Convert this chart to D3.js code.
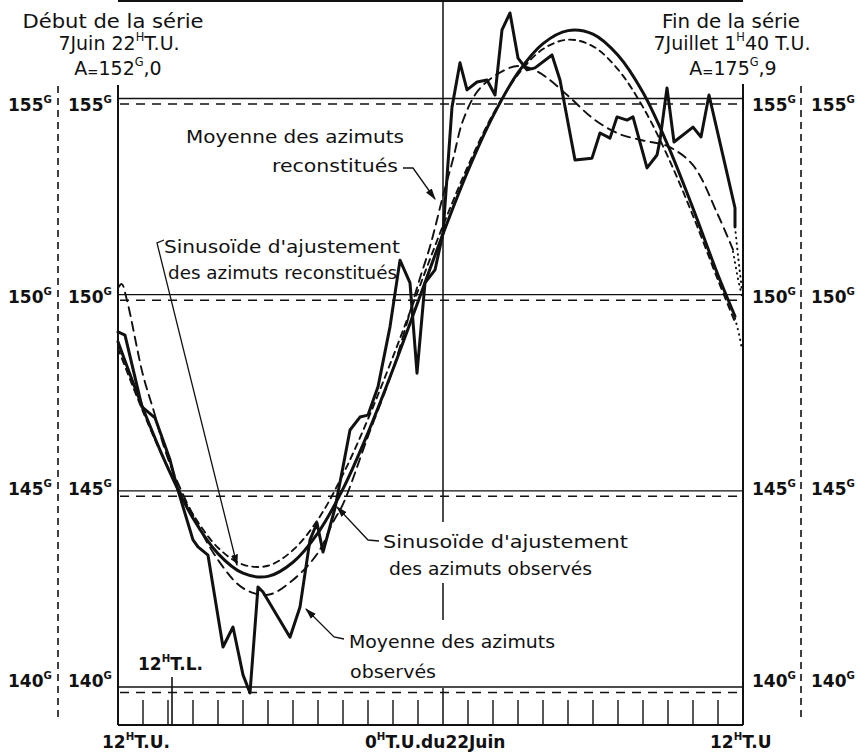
<!DOCTYPE html>
<html><head><meta charset="utf-8">
<script src="https://cdn.jsdelivr.net/npm/d3@7"></script>
<style>html,body{margin:0;padding:0;background:#fff;} svg{display:block;}</style>
</head><body>
<svg id="c" width="860" height="755"></svg>
<script>
// ---- data (t in hour-tick units from 12h T.U., value in grades) ----
const hourTicks = [0,1,2,3,4,5,6,7,8,9,10,11,12,13,14,15,16,17,18,19,20,21,22,23,24,25];
const gridValues = [155,150,145,140];
const gridLabels = ["155","150","145","140"];
const xLabels = [
  {t:0, parts:["12",{sup:"H"},"T.U."]},
  {t:13, parts:["0",{sup:"H"},"T.U.du22Juin"]},
  {t:25, parts:["12",{sup:"H"},"T.U"]}
];
const localNoonT = 2.16;

// Moyenne des azimuts observés
const meanObserved = [
 [0.00,149.05],[0.28,148.97],[0.96,147.14],[1.48,146.86],[2.08,145.79],[2.36,145.10],
 [3.00,143.75],[3.20,143.57],[3.60,143.36],[4.20,141.02],[4.60,141.53],[5.00,140.31],
 [5.28,139.85],[5.60,142.55],[5.80,142.42],[6.88,141.27],[7.28,142.04],[7.68,143.75],
 [7.96,144.18],[8.20,143.44],[8.68,144.56],[8.80,144.95],[9.00,145.61],[9.28,146.55],
 [9.68,146.88],[10.00,146.93],[10.40,147.65],[10.88,149.18],[11.28,150.88],[11.68,150.30],
 [11.96,148.00],[12.28,150.30],[12.68,150.63],[13.00,151.57],[13.36,154.78],[13.68,155.91],
 [13.96,155.22],[14.36,155.42],[14.76,155.47],[15.08,155.09],[15.36,156.75],[15.68,157.18],
 [16.00,156.03],[16.36,155.73],[16.68,155.78],[17.36,156.11],[17.68,155.47],[18.28,153.43],
 [18.96,153.48],[19.28,154.12],[19.68,153.99],[19.96,154.53],[20.36,154.45],[20.60,154.53],
 [21.16,153.23],[21.56,153.56],[21.68,153.94],[21.96,155.27],[22.24,153.89],[23.00,154.27],
 [23.32,154.02],[23.64,155.09],[24.36,153.10],[24.68,152.21],[24.68,151.73]
];
// Sinusoïde d'ajustement des azimuts observés
const fitObserved = [
 [0,148.8],[1,147.1],[2,145.58],[3,144.3],[4,143.4],[5,142.9],[6,142.82],[7,143.18],
 [8,143.93],[9,145.05],[10,146.48],[11,148.1],[12,149.82],[13,151.55],[14,153.16],
 [15,154.55],[16,155.66],[17,156.4],[18,156.73],[19,156.64],[20,156.1],[21,155.15],
 [22,153.8],[23,152.2],[24,150.5],[24.68,149.45]
];
// Sinusoïde d'ajustement des azimuts reconstitués
const fitReconst = [
 [0,148.63],[1,147.02],[2,145.58],[3,144.4],[4,143.55],[5,143.12],[6,143.09],[7,143.49],
 [8,144.27],[9,145.42],[10,146.83],[11,148.42],[12,150.1],[13,151.76],[14,153.28],
 [15,154.6],[16,155.61],[17,156.26],[18,156.5],[19,156.33],[20,155.74],[21,154.78],
 [22,153.51],[23,152.01],[24,150.37],[24.68,149.3]
];
// Moyenne des azimuts reconstitués
const meanReconst = [
 [0,150.17],[0.15,150.27],[0.35,149.88],[1,147.95],[1.4,147.1],[2,145.82],[3,144.38],
 [4,143.24],[5,142.52],[6,142.35],[7,142.73],[8,143.42],[8.6,144.2],[9,144.66],
 [10,146.39],[11,148.1],[12,150.26],[12.5,151.27],[13,152.52],[13.4,153.45],[13.8,154.44],
 [14.4,155.2],[15.2,155.63],[16,155.83],[16.8,155.68],[18,155.07],[19,154.49],[20,154.11],
 [21,153.93],[22,153.78],[23,153.3],[24,152.03],[24.6,151.15]
];
// extrapolations en pointillé
const dotObserved = [[24.68,151.73],[24.8,151.0],[24.96,150.1]];
const dotReconst = [[24.6,151.1],[24.8,150.4],[24.96,149.95]];
const dotFit = [[24.68,149.4],[24.84,149.0],[24.96,148.6]];

// ---- scales ----
const svg = d3.select("#c");
const x = d3.scaleLinear().domain([0,25]).range([118,743]);
const y = d3.scaleLinear().domain([140,155]).range([687,98.5]);
const FONT = "'DejaVu Sans', sans-serif";

const defs = svg.append("defs");
defs.append("marker").attr("id","arr").attr("viewBox","0 0 10 10").attr("refX",9).attr("refY",5)
  .attr("markerWidth",9).attr("markerHeight",9).attr("orient","auto-start-reverse")
  .append("path").attr("d","M0,2 L10,5 L0,8 Z").attr("fill","#111");

// text helper
function label(x0, y0, parts, o={}) {
  const size = o.size||17;
  const t = svg.append("text").attr("x",x0).attr("y",y0)
    .attr("font-family",FONT).attr("font-size",size)
    .attr("font-weight",o.weight||"normal").attr("fill","#111")
    .attr("text-anchor",o.anchor||"start");
  if (o.length) t.attr("textLength",o.length).attr("lengthAdjust","spacingAndGlyphs");
  let shift = 0;
  parts.forEach(p=>{
    const sp = t.append("tspan");
    let target = 0, txt = p;
    if (typeof p === "object") {
      if (p.sup!==undefined){ target = -size*0.45; txt=p.sup; sp.attr("font-size",size*0.6);}
      if (p.sub!==undefined){ target = size*0.12; txt=p.sub; sp.attr("font-size",size*0.7);}
      if (p.dx!==undefined) sp.attr("dx",p.dx);
      if (p.t!==undefined) txt=p.t;
      if (p.dy0!==undefined) target = p.dy0;
    }
    sp.attr("dy", target-shift).text(txt);
    shift = target;
  });
  return t;
}

// ---- frame ----
const ink = "#111";
function seg(x1,y1,x2,y2,w,dash){
  const l = svg.append("line").attr("x1",x1).attr("y1",y1).attr("x2",x2).attr("y2",y2)
    .attr("stroke",ink).attr("stroke-width",w);
  if (dash) l.attr("stroke-dasharray",dash);
  return l;
}
seg(x(0),1,x(25),1,2);
seg(x(0),85,x(0),725,2);
seg(x(25),84,x(25),725,2);
seg(x(0),725,x(25),725,2);
// centre line (0h T.U.)
seg(x(13),0,x(13),522,1.5);
seg(x(13),583,x(13),620,1.5);
seg(x(13),688,x(13),725,1.5);
// outer dashed axes
seg(58,86,58,722,1.6,"7,5");
seg(801,86,801,722,1.6,"7,5");

// grid lines
gridValues.forEach(v=>{
  seg(x(0),y(v),x(25),y(v),1.3);
  seg(x(0)+2,y(v)+5.5,x(25),y(v)+5.5,1.5,"9,7");
});

// hour ticks
hourTicks.filter(t=>t>0 && t<25 && t!==13).forEach(t=>seg(x(t),700,x(t),725,1.4));
seg(x(localNoonT),677,x(localNoonT),725,1.6);

// axis labels
gridValues.forEach((v,i)=>{
  const by = y(v) + 12 - (155-v)*0.8;
  [8,68,752,811].forEach(px=>label(px,by,[gridLabels[i],{sup:"G"}],{size:17,weight:"bold"}));
});
xLabels.forEach(d=>{
  const px = d.t===0 ? 102 : d.t===13 ? 365 : 710;
  label(px,748,d.parts,{size:17,weight:"bold"});
});
label(138,670,["12",{sup:"H"},"T.L."],{size:17,weight:"bold"});

// ---- curves ----
const smooth = d3.line().x(d=>x(d[0])).y(d=>y(d[1])).curve(d3.curveCatmullRom.alpha(0.5));
const straight = d3.line().x(d=>x(d[0])).y(d=>y(d[1]));
function path(data, gen, w, dash){
  const p = svg.append("path").attr("d",gen(data)).attr("fill","none").attr("stroke",ink)
    .attr("stroke-width",w).attr("stroke-linejoin","round").attr("stroke-linecap","round");
  if (dash) p.attr("stroke-dasharray",dash);
  return p;
}
path(meanReconst, smooth, 1.9, "9,6");
path(fitReconst, smooth, 1.9, "6,5");
path(fitObserved, smooth, 3);
path(meanObserved, straight, 3);
[dotObserved, dotReconst, dotFit].forEach(d=>path(d, straight, 2, "0.5,5"));

// ---- annotations ----
function leader(pts, arrow){
  const p = svg.append("path").attr("d", d3.line()(pts)).attr("fill","none")
    .attr("stroke",ink).attr("stroke-width",1.3);
  if (arrow) p.attr("marker-end","url(#arr)");
}
label(186,143,["Moyenne des azimuts"],{size:17,length:218});
label(272,172,["reconstitués"],{size:17,length:126});
leader([[403,168],[413,168],[435,199]],true);

label(164,253,["Sinusoïde d'ajustement"],{size:17,length:236});
label(168,279,["des azimuts reconstitués"],{size:17,length:229});
leader([[164,240],[157,243],[237,565]],true);

label(383,548,["Sinusoïde d'ajustement"],{size:17,length:245});
label(389,575,["des azimuts observés"],{size:17,length:203});
leader([[379,541],[368,540],[337,507]],true);

label(349,648,["Moyenne des azimuts"],{size:17,length:206});
label(350,678,["observés"],{size:17,length:86});
leader([[344,639],[334,637],[306,609]],true);

// headers
label(113,28,["Début de la série"],{size:19,anchor:"middle",length:181});
label(119,50,["7Juin 22",{sup:"H"},"T.U."],{size:19,anchor:"middle"});
label(118,75,["A",{sub:"="},"152",{sup:"G"},{t:",0",dy0:0}],{size:19,anchor:"middle"});
label(731,28,["Fin de la série"],{size:19,anchor:"middle",length:138});
label(732,50,["7Juillet  1",{sup:"H"},"40 T.U."],{size:19,anchor:"middle"});
label(733,75,["A",{sub:"="},"175",{sup:"G"},{t:",9",dy0:0}],{size:19,anchor:"middle"});
</script>
</body></html>
